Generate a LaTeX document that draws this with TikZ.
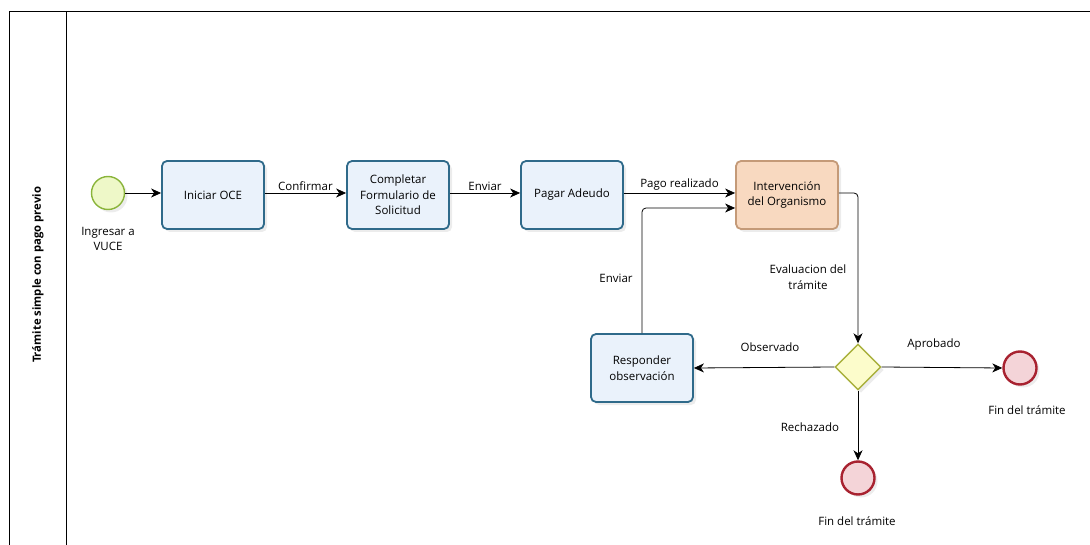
\documentclass[tikz,border=0pt]{standalone}
\usepackage{fontspec}
\setmainfont{Open Sans}
\usetikzlibrary{shapes.geometric,arrows.meta,shadows}
\definecolor{taskb}{HTML}{2F6A8A}
\definecolor{taskf}{HTML}{EAF2FB}
\definecolor{orgb}{HTML}{C49A78}
\definecolor{orgf}{HTML}{F8D9C0}
\definecolor{startb}{HTML}{8AB43A}
\definecolor{startf}{HTML}{EEF8C8}
\definecolor{endb}{HTML}{A82230}
\definecolor{endf}{HTML}{F4D4D8}
\definecolor{gateb}{HTML}{A9B03C}
\definecolor{gatef}{HTML}{FCFCCB}
\tikzset{
  lbl/.style={font=\fontsize{11.5}{15.5}\selectfont, align=center, inner sep=1pt},
  task/.style={draw=taskb, fill=taskf, line width=1.8pt, rounded corners=5pt, minimum width=102pt, minimum height=68pt, align=center, font=\fontsize{11.5}{15.5}\selectfont, drop shadow={opacity=0.15, shadow xshift=3pt, shadow yshift=-3pt}},
  orgtask/.style={task, draw=orgb, fill=orgf},
  startev/.style={circle, draw=startb, fill=startf, line width=1.4pt, minimum size=33pt, inner sep=0pt, drop shadow={opacity=0.15, shadow xshift=3pt, shadow yshift=-3pt}},
  endev/.style={circle, draw=endb, fill=endf, line width=2.4pt, minimum size=33pt, inner sep=0pt, drop shadow={opacity=0.15, shadow xshift=3pt, shadow yshift=-3pt}},
  gate/.style={diamond, draw=gateb, fill=gatef, line width=1.4pt, minimum width=46pt, minimum height=46pt, inner sep=0pt, drop shadow={opacity=0.15, shadow xshift=3pt, shadow yshift=-3pt}},
  flow/.style={draw=black, line width=0.8pt, -{Stealth[length=10pt,width=9pt,inset=3pt]}},
  frame/.style={draw=black, line width=1pt}
}
\begin{document}
\begin{tikzpicture}[x=1pt,y=-1pt]
\useasboundingbox (0,0) rectangle (1090,545);
% pool frame
\draw[frame] (1090,12) -- (9,12) -- (9,545);
\draw[frame] (66,12) -- (66,545);
\node[rotate=90, font=\bfseries\fontsize{11.3}{13}\selectfont] (lane) at (38,275) {Trámite simple con pago previo};
% nodes
\node[startev] (start) at (108,193) {};
\node[lbl, anchor=north] (startl) at (108,226) {Ingresar a\\VUCE};
\node[task] (t1) at (213,195) {Iniciar OCE};
\node[task] (t2) at (398,195) {Completar\\Formulario de\\Solicitud};
\node[task] (t3) at (572,195) {Pagar Adeudo};
\node[orgtask] (t4) at (787,195) {Intervención\\del Organismo};
\node[gate] (g) at (858,367) {};
\node[task] (t5) at (642,368) {Responder\\observación};
\node[endev] (e1) at (1020,368) {};
\node[endev] (e2) at (858,478) {};
\node[lbl] (e1l) at (1027,410) {Fin del trámite};
\node[lbl] (e2l) at (857,521) {Fin del trámite};
% connectors
\draw[flow] (start) -- (t1.west |- start);
\draw[flow] (t1.east |- 0,193) -- node[lbl, above=1pt] {Confirmar} (t2.west |- 0,193);
\draw[flow] (t2.east |- 0,193) -- node[lbl, above=1pt] {Enviar} (t3.west |- 0,193);
\draw[flow] (t3.east |- 0,193) -- node[lbl, above=1pt] {Pago realizado} (t4.west |- 0,193);
\draw[flow, rounded corners=4pt] (t4.east |- 0,193) -| (g.north);
\draw[flow] (g.west) -- (t5.east);
\draw[flow] (g.east) -- (e1.west);
\draw[flow] (g.south) -- (e2.north);
\draw[flow, rounded corners=4pt] (t5.north) |- (t4.west |- 0,208);
% labels
\node[lbl] (lev) at (808,277) {Evaluacion del\\trámite};
\node[lbl] (lenv) at (616,278) {Enviar};
\node[lbl] (lobs) at (770,347) {Observado};
\node[lbl] (lapr) at (934,345) {Aprobado};
\node[lbl] (lrec) at (810,427) {Rechazado};
\end{tikzpicture}
\end{document}
